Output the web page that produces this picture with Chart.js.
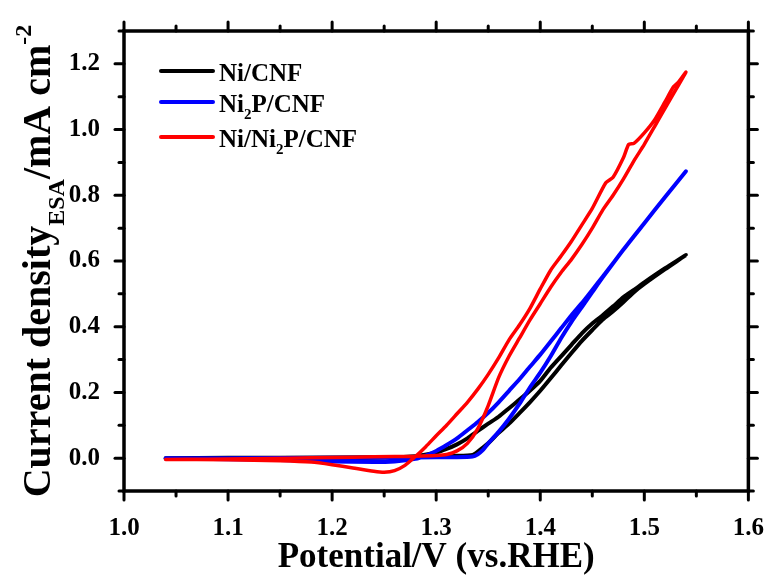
<!DOCTYPE html>
<html><head><meta charset="utf-8">
<script src="https://cdn.jsdelivr.net/npm/chart.js@4.4.1/dist/chart.umd.min.js"></script>
<style>html,body{margin:0;padding:0;background:#fff}#wrap{width:779px;height:581px;position:relative}</style>
</head><body><div id="wrap"><canvas id="c" width="779" height="581"></canvas></div>
<script>
// ---------- data ----------
const seriesLabels = ['Ni/CNF', 'Ni2P/CNF', 'Ni/Ni2P/CNF'];
const legendMarkup = ['Ni/CNF', 'Ni_2P/CNF', 'Ni/Ni_2P/CNF'];
const seriesColors = ['#000000', '#0000ff', '#ff0000'];

const xTickValues = [1.0, 1.1, 1.2, 1.3, 1.4, 1.5, 1.6];
const xMinorValues = [1.05, 1.15, 1.25, 1.35, 1.45, 1.55];
const yTickValues = [0.0, 0.2, 0.4, 0.6, 0.8, 1.0, 1.2];
const yMinorValues = [-0.1, 0.1, 0.3, 0.5, 0.7, 0.9, 1.1, 1.3];

// Ni/CNF (black): forward scan then reverse scan
const niPotential = [1.04,1.10,1.20,1.28,1.32,1.335,1.34,1.35,1.36,1.37,1.38,1.39,1.40,1.41,1.42,1.43,1.44,1.45,1.46,1.47,1.48,1.49,1.50,1.52,1.54,
  1.52,1.50,1.49,1.48,1.47,1.46,1.45,1.44,1.43,1.42,1.41,1.40,1.39,1.38,1.37,1.36,1.35,1.34,1.33,1.32,1.31,1.30,1.28,1.25,1.20,1.10,1.04];
const niCurrent = [0.000,0.001,0.002,0.004,0.007,0.010,0.020,0.045,0.077,0.105,0.137,0.170,0.205,0.243,0.282,0.320,0.357,0.390,0.422,0.447,0.475,0.505,0.530,0.575,0.618,
  0.578,0.535,0.512,0.490,0.462,0.435,0.410,0.380,0.345,0.310,0.275,0.235,0.205,0.178,0.152,0.126,0.105,0.083,0.060,0.042,0.028,0.017,0.006,0.002,0.000,-0.001,-0.001];

// Ni2P/CNF (blue)
const ni2pPotential = [1.04,1.10,1.20,1.28,1.32,1.335,1.34,1.345,1.35,1.36,1.37,1.38,1.39,1.40,1.41,1.42,1.43,1.44,1.45,1.46,1.48,1.50,1.52,1.54,
  1.52,1.50,1.48,1.46,1.45,1.44,1.43,1.42,1.41,1.40,1.39,1.38,1.37,1.36,1.35,1.34,1.33,1.32,1.31,1.30,1.29,1.28,1.26,1.24,1.20,1.15,1.10,1.04];
const ni2pCurrent = [0.000,0.000,0.001,0.002,0.003,0.005,0.012,0.025,0.045,0.080,0.120,0.165,0.215,0.260,0.310,0.365,0.415,0.460,0.505,0.550,0.635,0.715,0.795,0.873,
  0.795,0.715,0.635,0.552,0.512,0.472,0.435,0.395,0.355,0.315,0.278,0.240,0.205,0.170,0.138,0.110,0.085,0.060,0.040,0.022,0.008,-0.002,-0.010,-0.012,-0.010,-0.006,-0.003,-0.001];

// Ni/Ni2P/CNF (red)
const hybridPotential = [1.04,1.08,1.12,1.16,1.20,1.24,1.28,1.30,1.31,1.32,1.33,1.34,1.35,1.36,1.37,1.38,1.39,1.40,1.41,1.42,1.43,1.44,1.45,1.46,1.47,1.48,1.49,1.50,1.51,1.52,1.53,1.54,
  1.533,1.528,1.52,1.51,1.50,1.49,1.485,1.48,1.47,1.463,1.45,1.44,1.43,1.42,1.41,1.40,1.39,1.38,1.37,1.36,1.35,1.34,1.33,1.32,1.31,1.30,1.29,1.28,1.27,1.26,1.25,1.24,1.22,1.20,1.18,1.15,1.10,1.04];
const hybridCurrent = [-0.004,-0.003,-0.002,0.000,0.002,0.004,0.006,0.008,0.011,0.022,0.045,0.090,0.160,0.245,0.310,0.365,0.420,0.470,0.520,0.565,0.605,0.650,0.700,0.755,0.800,0.850,0.905,0.955,1.010,1.065,1.120,1.175,
  1.145,1.130,1.085,1.030,0.990,0.958,0.955,0.915,0.855,0.838,0.760,0.710,0.660,0.615,0.572,0.515,0.455,0.405,0.360,0.305,0.255,0.210,0.170,0.135,0.100,0.068,0.035,0.005,-0.022,-0.038,-0.043,-0.040,-0.030,-0.020,-0.012,-0.008,-0.005,-0.004];

const xTitle = 'Potential/V (vs.RHE)';
const yTitleParts = [['Current density', 0], ['ESA', 1], ['/mA cm', 0], ['-2', 2]];

// ---------- chart ----------
const FONT = "'Liberation Serif','Times New Roman',serif";
function pts(xs, ys) { return xs.map((x, i) => ({ x: x, y: ys[i] })); }

const frameAndLegend = {
  id: 'frameAndLegend',
  afterDraw(chart) {
    const ctx = chart.ctx, a = chart.chartArea;
    const xs = chart.scales.x, ys = chart.scales.y;
    ctx.save();
    ctx.strokeStyle = '#000';
    ctx.lineWidth = 3.5;
    ctx.strokeRect(a.left, a.top, a.right - a.left, a.bottom - a.top);
    ctx.lineWidth = 3;
    ctx.lineCap = 'round';
    const tick = (x1, y1, x2, y2) => { ctx.beginPath(); ctx.moveTo(x1, y1); ctx.lineTo(x2, y2); ctx.stroke(); };
    xTickValues.forEach(v => { const p = xs.getPixelForValue(v); tick(p, a.bottom, p, a.bottom + 9); tick(p, a.top, p, a.top - 9); });
    xMinorValues.forEach(v => { const p = xs.getPixelForValue(v); tick(p, a.bottom, p, a.bottom + 5); tick(p, a.top, p, a.top - 5); });
    yTickValues.forEach(v => { const p = ys.getPixelForValue(v); tick(a.left, p, a.left - 9, p); tick(a.right, p, a.right + 9, p); });
    yMinorValues.forEach(v => { const p = ys.getPixelForValue(v); tick(a.left, p, a.left - 5, p); tick(a.right, p, a.right + 5, p); });

    // y-axis title with subscript / superscript
    const sizes = [40, 24, 24], offs = [0, 14, -19];
    ctx.save();
    ctx.translate(50, (a.top + a.bottom) / 2);
    ctx.rotate(-Math.PI / 2);
    ctx.fillStyle = '#000';
    ctx.textBaseline = 'alphabetic';
    let total = 0;
    yTitleParts.forEach(([t, k]) => { ctx.font = 'bold ' + sizes[k] + 'px ' + FONT; total += ctx.measureText(t).width; });
    let cx = -total / 2;
    yTitleParts.forEach(([t, k]) => { ctx.font = 'bold ' + sizes[k] + 'px ' + FONT; ctx.fillText(t, cx, offs[k]); cx += ctx.measureText(t).width; });
    ctx.restore();

    // legend
    const rowsY = [71, 102, 137];
    legendMarkup.forEach((m, i) => {
      const y = rowsY[i];
      ctx.strokeStyle = seriesColors[i];
      ctx.lineWidth = 4;
      ctx.lineCap = 'round';
      tick(161, y, 213, y);
      ctx.fillStyle = '#000';
      let x = 219;
      m.split(/(_\d)/).forEach(seg => {
        if (!seg) return;
        if (seg[0] === '_') {
          ctx.font = 'bold 15px ' + FONT;
          ctx.fillText(seg.slice(1), x, y + 17);
        } else {
          ctx.font = 'bold 25px ' + FONT;
          ctx.fillText(seg, x, y + 9.5);
        }
        x += ctx.measureText(seg[0] === '_' ? seg.slice(1) : seg).width;
      });
    });
    ctx.restore();
  }
};

const ds = (label, xs, ys, color, width, order) => ({
  label, data: pts(xs, ys), borderColor: color, backgroundColor: color,
  borderWidth: width, showLine: true, pointRadius: 0, tension: 0.2,
  borderCapStyle: 'round', borderJoinStyle: 'round', order
});

new Chart(document.getElementById('c'), {
  type: 'scatter',
  data: {
    datasets: [
      ds(seriesLabels[0], niPotential, niCurrent, seriesColors[0], 4, 2),
      ds(seriesLabels[1], ni2pPotential, ni2pCurrent, seriesColors[1], 4, 1),
      ds(seriesLabels[2], hybridPotential, hybridCurrent, seriesColors[2], 3.5, 0)
    ]
  },
  options: {
    responsive: false, animation: false, devicePixelRatio: 1,
    layout: { padding: { top: 24, right: 23, left: 0, bottom: 0 } },
    plugins: { legend: { display: false }, tooltip: { enabled: false } },
    scales: {
      x: {
        type: 'linear', min: 1.0, max: 1.6,
        afterBuildTicks: s => { s.ticks = xTickValues.map(v => ({ value: v })); },
        afterFit: s => { s.height = 90; },
        grid: { display: false }, border: { display: false },
        ticks: { color: '#000', padding: 15, maxRotation: 0, autoSkip: false,
          font: { family: FONT, size: 25, weight: 'bold' }, callback: v => v.toFixed(1) },
        title: { display: true, text: xTitle, color: '#000', padding: { top: 0, bottom: 2 },
          font: { family: FONT, size: 35, weight: 'bold' } }
      },
      y: {
        type: 'linear', min: -0.1, max: 1.3,
        afterBuildTicks: s => { s.ticks = yTickValues.map(v => ({ value: v })); },
        afterFit: s => { s.width = 124; },
        grid: { display: false }, border: { display: false },
        ticks: { color: '#000', padding: 16, autoSkip: false,
          font: { family: FONT, size: 25, weight: 'bold' }, callback: v => v.toFixed(1) }
      }
    }
  },
  plugins: [frameAndLegend]
});
</script></body></html>
